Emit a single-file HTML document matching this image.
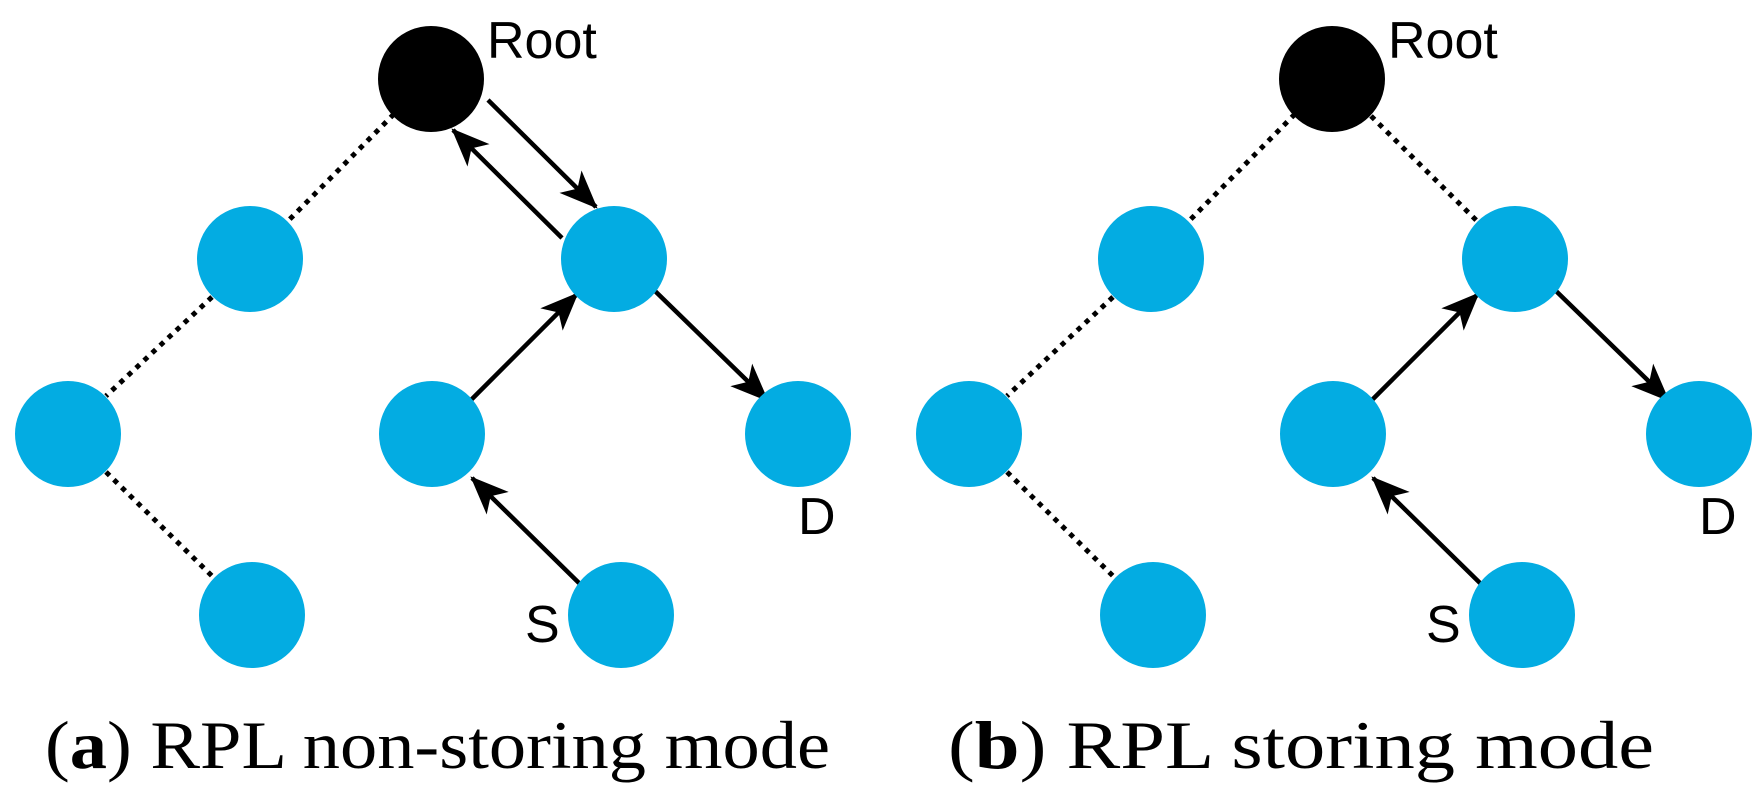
<!DOCTYPE html>
<html><head><meta charset="utf-8"><style>html,body{margin:0;padding:0;background:#fff}svg{display:block}</style></head>
<body>
<svg width="1761" height="800" viewBox="0 0 1761 800" xmlns="http://www.w3.org/2000/svg">
<defs>
<marker id="ah" markerWidth="8.5" markerHeight="7" refX="8" refY="3.5" orient="auto" markerUnits="strokeWidth">
<path d="M0,0 L8.5,3.5 L0,7 L2.2,3.5 Z" fill="#000"/>
</marker>
</defs>
<g id="a">
<g stroke="#000" stroke-width="5" stroke-dasharray="5 6" fill="none">
<line x1="394" y1="114" x2="288" y2="221"/>
<line x1="212" y1="297" x2="106" y2="396"/>
<line x1="106" y1="472" x2="212" y2="576"/>
</g>
<g stroke="#000" stroke-width="4.5" fill="none" marker-end="url(#ah)">
<line x1="488" y1="100" x2="596" y2="207"/>
<line x1="562" y1="238" x2="453" y2="130"/>
<line x1="471" y1="400" x2="577" y2="294"/>
<line x1="655" y1="291" x2="767" y2="400"/>
<line x1="580" y1="584" x2="472" y2="478"/>
</g>
<circle cx="431" cy="79" r="53" fill="#000"/>
<g fill="#03ace2">
<circle cx="250" cy="259" r="53"/>
<circle cx="68" cy="434" r="53"/>
<circle cx="252" cy="615" r="53"/>
<circle cx="614" cy="259" r="53"/>
<circle cx="432" cy="434" r="53"/>
<circle cx="798" cy="434" r="53"/>
<circle cx="621" cy="615" r="53"/>
</g>
<g font-family="Liberation Sans, sans-serif" font-size="52" fill="#000">
<text x="487" y="58">Root</text>
<text x="798" y="534">D</text>
<text x="525" y="642">S</text>
</g>
<text x="45" y="768" font-family="Liberation Serif, serif" font-size="68" textLength="785" lengthAdjust="spacingAndGlyphs">(<tspan font-weight="bold">a</tspan>) RPL non-storing mode</text>
</g>
<g transform="translate(901,0)">
<g stroke="#000" stroke-width="5" stroke-dasharray="5 6" fill="none">
<line x1="394" y1="114" x2="288" y2="221"/>
<line x1="212" y1="297" x2="106" y2="396"/>
<line x1="106" y1="472" x2="212" y2="576"/>
<line x1="470" y1="116" x2="576" y2="221"/>
</g>
<g stroke="#000" stroke-width="4.5" fill="none" marker-end="url(#ah)">
<line x1="471" y1="400" x2="577" y2="294"/>
<line x1="655" y1="291" x2="767" y2="400"/>
<line x1="580" y1="584" x2="472" y2="478"/>
</g>
<circle cx="431" cy="79" r="53" fill="#000"/>
<g fill="#03ace2">
<circle cx="250" cy="259" r="53"/>
<circle cx="68" cy="434" r="53"/>
<circle cx="252" cy="615" r="53"/>
<circle cx="614" cy="259" r="53"/>
<circle cx="432" cy="434" r="53"/>
<circle cx="798" cy="434" r="53"/>
<circle cx="621" cy="615" r="53"/>
</g>
<g font-family="Liberation Sans, sans-serif" font-size="52" fill="#000">
<text x="487" y="58">Root</text>
<text x="798" y="534">D</text>
<text x="525" y="642">S</text>
</g>
<text x="47" y="768" font-family="Liberation Serif, serif" font-size="68" textLength="706" lengthAdjust="spacingAndGlyphs">(<tspan font-weight="bold">b</tspan>) RPL storing mode</text>
</g>
</svg>
</body></html>
